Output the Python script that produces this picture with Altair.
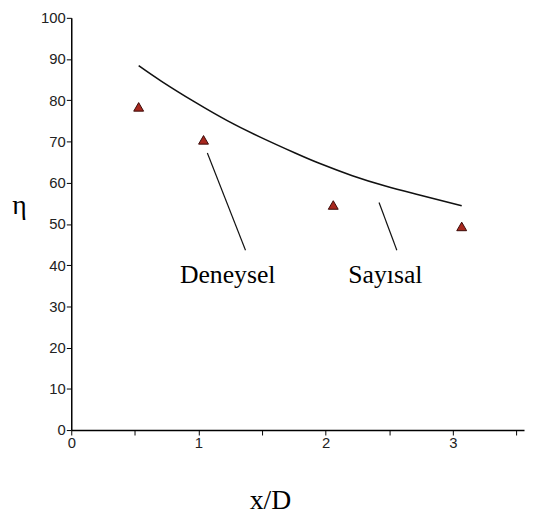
import altair as alt
import pandas as pd

# Numerical curve (Sayısal)
curve_x = [0.53, 0.71, 0.97, 1.23, 1.49, 1.76, 1.95, 2.21, 2.47, 2.73, 3.07]
curve_y = [88.4, 84.6, 79.6, 75.0, 71.0, 67.2, 64.7, 61.7, 59.2, 57.1, 54.4]

# Experimental points (Deneysel)
exp_x = [0.53, 1.04, 2.06, 3.07]
exp_y = [78.4, 70.4, 54.6, 49.4]

# Annotation labels and pointer lines
label_text = ["Deneysel", "Sayısal"]
label_x = [1.23, 2.47]
label_y = [35.7, 35.7]
ptr_x1 = [1.07, 2.42]
ptr_y1 = [67.2, 55.2]
ptr_x2 = [1.37, 2.56]
ptr_y2 = [43.6, 43.6]

x_ticks = [0, 0.5, 1, 1.5, 2, 2.5, 3, 3.5]
y_ticks = list(range(0, 101, 5))

curve_df = pd.DataFrame({"x": curve_x, "y": curve_y})
exp_df = pd.DataFrame({"x": exp_x, "y": exp_y})
lab_df = pd.DataFrame({"t": label_text, "x": label_x, "y": label_y})
ptr_df = pd.DataFrame({"x": ptr_x1, "y": ptr_y1, "x2": ptr_x2, "y2": ptr_y2})

xscale = alt.Scale(domain=[0, 3.56], nice=False, zero=False)
yscale = alt.Scale(domain=[0, 100], nice=False)

xaxis = alt.Axis(
    values=x_ticks,
    labelExpr="datum.value % 1 == 0 ? format(datum.value, 'd') : ''",
    title="x/D", titleFont="Liberation Serif", titleFontSize=28,
    titleFontWeight="normal", titleColor="#000",
    titleX=201, titleY=71, titleBaseline="middle", titleAlign="center",
    grid=False, domainColor="#000", domainWidth=1.5,
    tickColor="#000", tickSize=5, tickWidth=1,
    labelFont="Liberation Sans", labelFontSize=15, labelColor="#222",
    labelPadding=1, labelFlush=False,
)
yaxis = alt.Axis(
    values=y_ticks,
    labelExpr="datum.value % 10 == 0 ? format(datum.value, 'd') : ''",
    title="η", titleFont="Liberation Serif", titleFontSize=28,
    titleFontWeight="normal", titleColor="#000", titleAngle=0,
    titleX=-53, titleY=190, titleBaseline="middle", titleAlign="center",
    grid=False, domainColor="#000", domainWidth=1.5,
    tickColor="#000", tickSize=5, tickWidth=1,
    labelFont="Liberation Sans", labelFontSize=15, labelColor="#222",
    labelPadding=1, labelFlush=False,
)

line = alt.Chart(curve_df).mark_line(
    color="#111", strokeWidth=1.6, interpolate="natural"
).encode(
    x=alt.X("x:Q", scale=xscale, axis=xaxis),
    y=alt.Y("y:Q", scale=yscale, axis=yaxis),
)

pts = alt.Chart(exp_df).mark_point(
    shape="triangle-up", filled=True, fill="#a8281e", stroke="#3a0a08",
    strokeWidth=1, size=100, opacity=1,
).encode(x="x:Q", y="y:Q")

ptrs = alt.Chart(ptr_df).mark_rule(color="#111", strokeWidth=1.2).encode(
    x="x:Q", y="y:Q", x2="x2:Q", y2="y2:Q"
)

labels = alt.Chart(lab_df).mark_text(
    font="Liberation Serif", fontSize=26, color="#000",
    align="center", baseline="alphabetic",
).encode(x="x:Q", y="y:Q", text="t:N")

chart = alt.layer(line, pts, ptrs, labels).properties(
    width=458, height=417,
    autosize=alt.AutoSizeParams(type="none"),
    padding={"left": 64, "top": 7, "right": 2, "bottom": 85},
).configure_view(stroke=None)

chart.save("out.html", embed_options={"renderer": "svg", "actions": False})
